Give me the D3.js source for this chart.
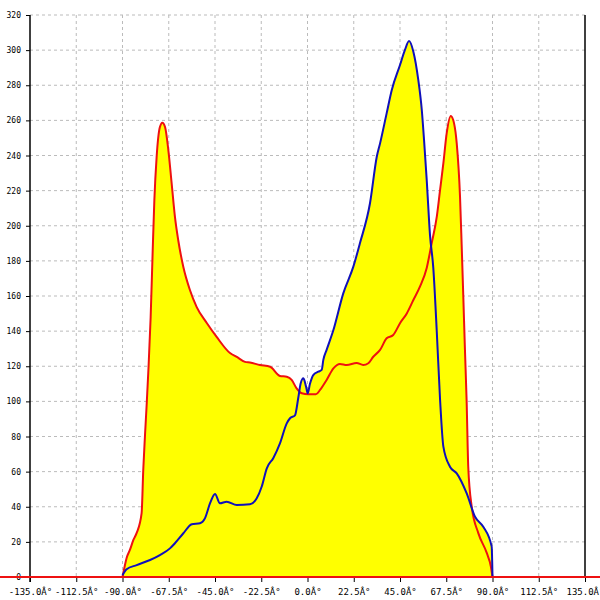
<!DOCTYPE html>
<html>
<head>
<meta charset="utf-8">
<script src="https://cdn.jsdelivr.net/npm/d3@7"></script>
<style>
  body { margin: 0; background: #fff; }
  svg { display: block; }
</style>
</head>
<body>
<svg width="600" height="600"></svg>
<script>
// red series
var redAngles = [-90, -88.8, -88, -86.4, -84.7, -83.1, -80.7, -79.9, -79.1, -78.2, -77.4, -76.3, -75.3, -74.5,
  -73.4, -71.8, -70.6, -69.3, -67.7, -66.1, -64.5, -62.9, -60.4, -57.2, -53.9, -49, -44.2, -37.7, -34.4,
  -30.4, -28, -23.1, -18.2, -13.4, -10.1, -7.7, -5.3, -2.8, 0.4, 4.1, 6.1, 9.3, 12.6, 15.8, 19.1, 23.9,
  27.1, 29.6, 32, 35.3, 38.5, 41.7, 45, 48.3, 51.5, 54.7, 58, 60.4, 62.9, 64.5, 66.1, 67.7, 69.7, 71.3,
  72.6, 74.2, 75, 75.8, 76.6, 77.4, 78.2, 79.9, 83.1, 87.2, 89.2, 90];
var redValues = [0, 6.8, 10.8, 15.4, 21.1, 25.1, 36.4, 60.9, 79.7, 99.1, 117.9, 148, 186.2, 214.7,
  239.1, 256.2, 258.7, 256.2, 243.1, 224.3, 205.2, 191.9, 176.5, 163.4, 153.7, 144.6, 136.7, 127.5, 125.3,
  122.5, 122.1, 120.7, 119.7, 114.5, 114, 112.2, 107.4, 104.6, 104, 104, 106.5, 112.2, 118.8, 121.3, 120.7, 121.9,
  120.7, 121.7, 125.4, 129.3, 135.9, 137.8, 144.5, 150.1, 157.7, 165.3, 176, 190, 205.2, 220.4, 235.6, 252.6, 262.5, 258.3,
  246.9, 216.5, 189, 159.6, 129.3, 100.8, 62.8, 40, 25, 13.7, 6, 0];

// blue series
var blueAngles = [-90, -88, -83.1, -76.6, -71.8, -66.9, -64.5, -60.4, -56.3, -52.3, -49.9, -47.4, -45, -42.6,
  -39.3, -34.4, -28, -24.7, -22.3, -19.8, -16.6, -13.4, -10.1, -8.5, -6.1, -4.5, -3.3, -2, -0.7, 0.1, 1.2,
  2.8, 5.3, 6.9, 7.7, 9.3, 12.6, 17.4, 22.3, 25.5, 30.4, 33.7, 35.3, 38.5, 41, 45, 47.4, 49.4, 51.5, 53.9,
  55.6, 56.7, 58, 59.6, 61.2, 62.9, 64.5, 66.1, 69.3, 72.6, 77.4, 81.5, 85.5, 89.6, 90];
var blueValues = [1, 4.4, 6.8, 9.7, 12.5, 16.3, 19.2, 24.9, 30, 30.6, 33.4, 42, 47.3, 42,
  42.9, 41, 41.4, 44.8, 51.4, 61.9, 67.8, 76.1, 87.5, 90.4, 92, 101.9, 110.3, 113.1, 108.4, 104.6, 110,
  115, 116.9, 117.9, 123.6, 129.3, 140.6, 161.5, 176.7, 190, 212.8, 239.3, 246.9, 264, 277.3, 291.5, 300.1, 305.2, 299.1, 283,
  265.9, 248.8, 226, 194.7, 176, 139.5, 100.8, 74.2, 62.8, 59, 47.7, 34.3, 28.6, 17.3, 0];

var xTicks = [-135, -112.5, -90, -67.5, -45, -22.5, 0, 22.5, 45, 67.5, 90, 112.5, 135];
var yTicks = [0, 20, 40, 60, 80, 100, 120, 140, 160, 180, 200, 220, 240, 260, 280, 300, 320];

var svg = d3.select('svg');

var x = d3.scaleLinear().domain([-135, 135]).range([30, 585]);
var y = d3.scaleLinear().domain([0, 320]).range([577, 15]);

var red = redAngles.map(function(a, i) { return [a, redValues[i]]; });
var blue = blueAngles.map(function(a, i) { return [a, blueValues[i]]; });

// grid
svg.append('g').selectAll('line')
  .data(yTicks.slice(1))
  .enter()
  .append('line')
  .attr('x1', 30).attr('x2', 585)
  .attr('y1', function(d) { return y(d); })
  .attr('y2', function(d) { return y(d); })
  .attr('stroke', '#bbb')
  .attr('stroke-dasharray', '3,3');

svg.append('g').selectAll('line')
  .data(xTicks.slice(1, -1))
  .enter()
  .append('line')
  .attr('y1', 15).attr('y2', 577)
  .attr('x1', function(d) { return x(d); })
  .attr('x2', function(d) { return x(d); })
  .attr('stroke', '#bbb')
  .attr('stroke-dasharray', '3,3');

var area = d3.area()
  .x(function(d) { return x(d[0]); })
  .y0(y(0))
  .y1(function(d) { return y(d[1]); })
  .curve(d3.curveMonotoneX);

var line = d3.line()
  .x(function(d) { return x(d[0]); })
  .y(function(d) { return y(d[1]); })
  .curve(d3.curveMonotoneX);

svg.append('path').datum(red).attr('d', area).attr('fill', '#ffff00');
svg.append('path').datum(blue).attr('d', area).attr('fill', '#ffff00');

// axes
var xAxis = d3.axisBottom(x)
  .tickValues(xTicks)
  .tickSize(5)
  .tickFormat(function(d) { return d.toFixed(1) + 'Â°'; });

var gx = svg.append('g')
  .attr('transform', 'translate(0,' + y(0) + ')')
  .call(xAxis);
gx.select('.domain').remove();
gx.selectAll('text')
  .attr('font-family', 'DejaVu Sans Mono')
  .attr('font-size', 9)
  .attr('fill', '#000')
  .attr('dy', '1.15em');

var yAxis = d3.axisLeft(y)
  .tickValues(yTicks)
  .tickSize(4)
  .tickPadding(5);

var gy = svg.append('g')
  .attr('transform', 'translate(' + x(-135) + ',0)')
  .call(yAxis);
gy.select('.domain').remove();
gy.selectAll('text')
  .attr('font-family', 'DejaVu Sans Mono')
  .attr('font-size', 8)
  .attr('fill', '#000');

svg.append('line')
  .attr('x1', x(-135)).attr('x2', x(-135))
  .attr('y1', y(320)).attr('y2', y(0) + 5)
  .attr('stroke', '#000').attr('stroke-width', 1.5);

svg.append('line')
  .attr('x1', x(135)).attr('x2', x(135))
  .attr('y1', y(320)).attr('y2', y(0))
  .attr('stroke', '#000').attr('stroke-width', 1.5);

svg.append('path').datum(red).attr('d', line)
  .attr('fill', 'none').attr('stroke', '#ee1111').attr('stroke-width', 2);
svg.append('path').datum(blue).attr('d', line)
  .attr('fill', 'none').attr('stroke', '#1010bb').attr('stroke-width', 2);

// red baseline
svg.append('line')
  .attr('x1', 0).attr('x2', 600)
  .attr('y1', y(0)).attr('y2', y(0))
  .attr('stroke', '#ee1111').attr('stroke-width', 2);
</script>
</body>
</html>
